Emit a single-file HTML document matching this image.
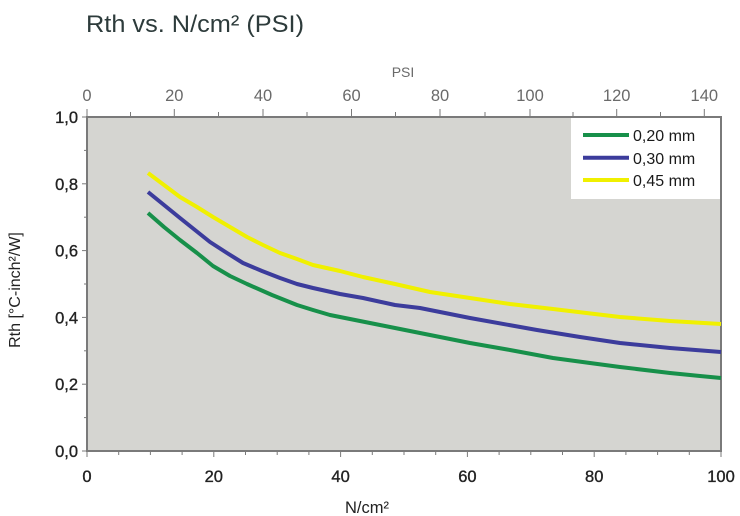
<!DOCTYPE html>
<html>
<head>
<meta charset="utf-8">
<style>
html,body{margin:0;padding:0;background:#fff;}
svg{display:block;}
text{font-family:"Liberation Sans","DejaVu Sans",sans-serif;}
</style>
</head>
<body>
<svg width="740" height="516" viewBox="0 0 740 516" xmlns="http://www.w3.org/2000/svg">
  <!-- Title -->
  <text x="86" y="32" font-size="24" fill="#2d3b3b" textLength="218" lengthAdjust="spacingAndGlyphs">Rth vs. N/cm² (PSI)</text>

  <!-- plot background -->
  <rect x="87" y="117" width="634" height="334" fill="#d5d5d1"/>

  <!-- legend box -->
  <rect x="571" y="118" width="149" height="81" fill="#ffffff"/>

  <!-- axes frame -->
  <g stroke="#7a7a7a" stroke-width="2" fill="none">
    <line x1="87" y1="117" x2="722" y2="117"/>
    <line x1="721" y1="117" x2="721" y2="452"/>
    <line x1="87" y1="116" x2="87" y2="452"/>
    <line x1="86" y1="451" x2="722" y2="451"/>
  </g>

  <!-- left ticks -->
  <g stroke="#7a7a7a" stroke-width="1">
    <line x1="82" y1="117" x2="87" y2="117"/>
    <line x1="84" y1="150.4" x2="87" y2="150.4"/>
    <line x1="82" y1="183.8" x2="87" y2="183.8"/>
    <line x1="84" y1="217.2" x2="87" y2="217.2"/>
    <line x1="82" y1="250.6" x2="87" y2="250.6"/>
    <line x1="84" y1="284" x2="87" y2="284"/>
    <line x1="82" y1="317.4" x2="87" y2="317.4"/>
    <line x1="84" y1="350.8" x2="87" y2="350.8"/>
    <line x1="82" y1="384.2" x2="87" y2="384.2"/>
    <line x1="84" y1="417.6" x2="87" y2="417.6"/>
    <line x1="82" y1="451" x2="87" y2="451"/>
  </g>

  <!-- bottom ticks every 5 -->
  <g stroke="#7a7a7a" stroke-width="1">
    <line x1="87" y1="451" x2="87" y2="457"/>
    <line x1="118.7" y1="451" x2="118.7" y2="455"/>
    <line x1="150.4" y1="451" x2="150.4" y2="455"/>
    <line x1="182.1" y1="451" x2="182.1" y2="455"/>
    <line x1="213.8" y1="451" x2="213.8" y2="457"/>
    <line x1="245.5" y1="451" x2="245.5" y2="455"/>
    <line x1="277.2" y1="451" x2="277.2" y2="455"/>
    <line x1="308.9" y1="451" x2="308.9" y2="455"/>
    <line x1="340.6" y1="451" x2="340.6" y2="457"/>
    <line x1="372.3" y1="451" x2="372.3" y2="455"/>
    <line x1="404" y1="451" x2="404" y2="455"/>
    <line x1="435.7" y1="451" x2="435.7" y2="455"/>
    <line x1="467.4" y1="451" x2="467.4" y2="457"/>
    <line x1="499.1" y1="451" x2="499.1" y2="455"/>
    <line x1="530.8" y1="451" x2="530.8" y2="455"/>
    <line x1="562.5" y1="451" x2="562.5" y2="455"/>
    <line x1="594.2" y1="451" x2="594.2" y2="457"/>
    <line x1="625.9" y1="451" x2="625.9" y2="455"/>
    <line x1="657.6" y1="451" x2="657.6" y2="455"/>
    <line x1="689.3" y1="451" x2="689.3" y2="455"/>
    <line x1="721" y1="451" x2="721" y2="457"/>
  </g>

  <!-- top ticks (PSI) -->
  <g stroke="#7a7a7a" stroke-width="1">
    <line x1="87" y1="117" x2="87" y2="109"/>
    <line x1="130.5" y1="117" x2="130.5" y2="112"/>
    <line x1="174.3" y1="117" x2="174.3" y2="109"/>
    <line x1="218.5" y1="117" x2="218.5" y2="112"/>
    <line x1="263" y1="117" x2="263" y2="109"/>
    <line x1="307" y1="117" x2="307" y2="112"/>
    <line x1="351.5" y1="117" x2="351.5" y2="109"/>
    <line x1="395.5" y1="117" x2="395.5" y2="112"/>
    <line x1="440" y1="117" x2="440" y2="109"/>
    <line x1="485" y1="117" x2="485" y2="112"/>
    <line x1="530" y1="117" x2="530" y2="109"/>
    <line x1="573" y1="117" x2="573" y2="112"/>
    <line x1="616.7" y1="117" x2="616.7" y2="109"/>
    <line x1="660.5" y1="117" x2="660.5" y2="112"/>
    <line x1="704.3" y1="117" x2="704.3" y2="109"/>
  </g>

  <!-- top labels -->
  <text x="403" y="77" font-size="14" fill="#6a6a6a" text-anchor="middle">PSI</text>
  <g font-size="16.5" fill="#6a6a6a" text-anchor="middle">
    <text x="87" y="101">0</text>
    <text x="174.3" y="101">20</text>
    <text x="263" y="101">40</text>
    <text x="351.5" y="101">60</text>
    <text x="440" y="101">80</text>
    <text x="530" y="101">100</text>
    <text x="616.7" y="101">120</text>
    <text x="704.3" y="101">140</text>
  </g>

  <!-- left labels -->
  <g font-size="16.5" fill="#222" stroke="#222" stroke-width="0.35" text-anchor="end">
    <text x="78" y="123">1,0</text>
    <text x="78" y="189.8">0,8</text>
    <text x="78" y="256.6">0,6</text>
    <text x="78" y="323.4">0,4</text>
    <text x="78" y="390.2">0,2</text>
    <text x="78" y="457">0,0</text>
  </g>

  <!-- bottom labels -->
  <g font-size="16.5" fill="#222" stroke="#222" stroke-width="0.35" text-anchor="middle">
    <text x="87" y="482">0</text>
    <text x="213.8" y="482">20</text>
    <text x="340.6" y="482">40</text>
    <text x="467.4" y="482">60</text>
    <text x="594.2" y="482">80</text>
    <text x="721" y="482">100</text>
  </g>

  <text x="367" y="513" font-size="16.5" fill="#222" text-anchor="middle">N/cm²</text>
  <text transform="translate(20,290) rotate(-90)" font-size="16" fill="#222" text-anchor="middle">Rth [°C-inch²/W]</text>

  <!-- curves -->
  <g fill="none" stroke-width="4" stroke-linejoin="round" stroke-linecap="butt">
    <polyline stroke="#f0f000" points="148,173 164,185 180,197 197,207 213,217 230,227 247,237 263,245 280,253 297,259 313,265 340,271 363,277 395,284 430,292 470,298 510,304 553,309 620,317 670,321 721,324"/>
    <polyline stroke="#3c3c9c" points="148,192 164,205 180,218 195,230 210,242 227,253 243,263 262,271 280,278 297,284 313,288 340,294 363,298 395,305 420,308 470,318 537,330 580,337 620,343 670,348 721,352"/>
    <polyline stroke="#17904a" points="148,213 164,227 180,240 197,253 213,266 230,276 247,284 272,295 297,305 313,310 330,315 355,320 380,325 405,330 430,335 470,343 510,350 553,358 590,363 620,367 670,373 700,376 721,378"/>
  </g>

  <!-- legend -->
  <g stroke-width="4">
    <line x1="583" y1="135" x2="629" y2="135" stroke="#17904a"/>
    <line x1="583" y1="157.7" x2="629" y2="157.7" stroke="#3c3c9c"/>
    <line x1="583" y1="180" x2="629" y2="180" stroke="#f0f000"/>
  </g>
  <g font-size="16" fill="#1a1a1a">
    <text x="633" y="141">0,20 mm</text>
    <text x="633" y="164">0,30 mm</text>
    <text x="633" y="186">0,45 mm</text>
  </g>
</svg>
</body>
</html>
